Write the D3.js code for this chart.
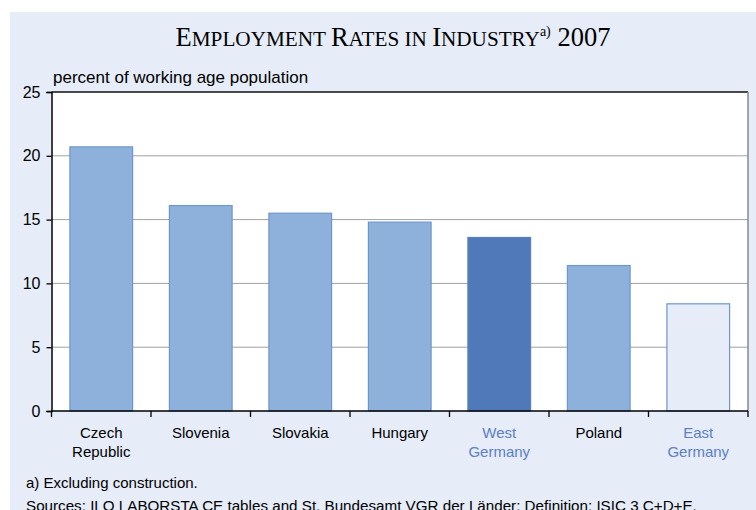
<!DOCTYPE html>
<html>
<head>
<meta charset="utf-8">
<script src="https://cdn.jsdelivr.net/npm/d3@7"></script>
<style>
  body { margin: 0; background: #fff; }
  svg { display: block; }
</style>
</head>
<body>
<div id="chart"></div>
<script>
// Employment rates in industry 2007 - bar chart

var countries = ["Czech|Republic", "Slovenia", "Slovakia", "Hungary", "West|Germany", "Poland", "East|Germany"];
var rates = [20.7, 16.1, 15.5, 14.8, 13.6, 11.4, 8.4];
var yTicks = [0, 5, 10, 15, 20, 25];
var highlight = ["West|Germany", "East|Germany"];

var width = 756, height = 510;
var margin = { top: 92, right: 8, bottom: 99, left: 51.5 };

var svg = d3.select("#chart").append("svg")
    .attr("width", width)
    .attr("height", height);

// light blue panel
svg.append("rect")
    .attr("x", 10).attr("y", 12)
    .attr("width", width - 10).attr("height", height - 12)
    .attr("fill", "#e6ecf8");

var x = d3.scaleBand()
    .domain(countries)
    .range([margin.left, width - margin.right])
    .paddingInner(0.37)
    .paddingOuter(0.185);

var y = d3.scaleLinear()
    .domain([0, 25])
    .range([height - margin.bottom, margin.top]);

var plotL = margin.left, plotR = width - margin.right;
var plotT = margin.top, plotB = height - margin.bottom;

svg.append("rect")
    .attr("x", plotL).attr("y", plotT)
    .attr("width", plotR - plotL).attr("height", plotB - plotT)
    .attr("fill", "#fff");

// gridlines
svg.append("g").selectAll("line")
    .data(yTicks.filter(function(d) { return d > 0 && d < 25; }))
    .enter().append("line")
    .attr("x1", plotL).attr("x2", plotR)
    .attr("y1", function(d) { return y(d); })
    .attr("y2", function(d) { return y(d); })
    .attr("stroke", "#a0a0a0")
    .attr("stroke-width", 1);

// bars
svg.append("g").selectAll("rect")
    .data(countries)
    .enter().append("rect")
    .attr("x", function(d) { return x(d); })
    .attr("width", x.bandwidth())
    .attr("y", function(d, i) { return y(rates[i]); })
    .attr("height", function(d, i) { return y(0) - y(rates[i]); })
    .attr("fill", function(d) {
        if (d === "West|Germany") return "#5079ba";
        if (d === "East|Germany") return "#e6ecf8";
        return "#8eb1dc";
    })
    .attr("stroke", function(d) {
        return d === "West|Germany" ? "#5b80bf" : "#6f95cc";
    })
    .attr("stroke-width", 1.2);

// frame: top black, right gray
svg.append("line")
    .attr("x1", plotL).attr("x2", plotR)
    .attr("y1", plotT).attr("y2", plotT)
    .attr("stroke", "#111").attr("stroke-width", 1.3);
svg.append("line")
    .attr("x1", plotR).attr("x2", plotR)
    .attr("y1", plotT).attr("y2", plotB)
    .attr("stroke", "#888").attr("stroke-width", 1.5);

// y axis
var yAxis = d3.axisLeft(y).tickValues(yTicks).tickSize(5).tickPadding(6);
var yG = svg.append("g")
    .attr("transform", "translate(" + plotL + ",0)")
    .call(yAxis);
yG.select(".domain").attr("stroke", "#000").attr("stroke-width", 1.5);
yG.selectAll(".tick line").attr("stroke", "#000").attr("stroke-width", 1.3);
yG.selectAll(".tick text")
    .attr("font-family", "Liberation Sans, Arial, sans-serif")
    .attr("font-size", 16)
    .attr("fill", "#000");

// x axis with ticks at band edges
var xAxisG = svg.append("g");
xAxisG.append("line")
    .attr("x1", plotL).attr("x2", plotR)
    .attr("y1", plotB).attr("y2", plotB)
    .attr("stroke", "#000").attr("stroke-width", 1.5);
var step = x.step();
var edges = d3.range(countries.length + 1).map(function(i) {
    return x(countries[0]) - x.paddingInner() * step / 2 + i * step;
});
xAxisG.selectAll("line.edge")
    .data(edges)
    .enter().append("line")
    .attr("class", "edge")
    .attr("x1", function(d) { return d; })
    .attr("x2", function(d) { return d; })
    .attr("y1", plotB).attr("y2", plotB + 6)
    .attr("stroke", "#000").attr("stroke-width", 1.3);

// category labels
var labels = svg.append("g").selectAll("text")
    .data(countries)
    .enter().append("text")
    .attr("text-anchor", "middle")
    .attr("font-family", "Liberation Sans, Arial, sans-serif")
    .attr("font-size", 15)
    .attr("fill", function(d) {
        return highlight.indexOf(d) >= 0 ? "#5b80c4" : "#000";
    });
labels.each(function(d) {
    var t = d3.select(this);
    var cx = x(d) + x.bandwidth() / 2;
    d.split("|").forEach(function(line, j) {
        t.append("tspan")
            .attr("x", cx)
            .attr("y", 438 + j * 19)
            .text(line);
    });
});

// title
var title = svg.append("text")
    .attr("x", 393).attr("y", 46)
    .attr("text-anchor", "middle")
    .attr("font-family", "Liberation Serif, Times New Roman, serif")
    .attr("fill", "#000");
title.append("tspan").attr("font-size", 26.5).text("E");
title.append("tspan").attr("font-size", 21.2).text("MPLOYMENT ");
title.append("tspan").attr("font-size", 26.5).text("R");
title.append("tspan").attr("font-size", 21.2).text("ATES IN ");
title.append("tspan").attr("font-size", 26.5).text("I");
title.append("tspan").attr("font-size", 21.2).text("NDUSTRY");
title.append("tspan").attr("font-size", 14).attr("dy", -10).text("a)");
title.append("tspan").attr("font-size", 26.5).attr("dy", 10).text(" 2007");

// unit label
svg.append("text")
    .attr("x", 53).attr("y", 83)
    .attr("font-family", "Liberation Sans, Arial, sans-serif")
    .attr("font-size", 17)
    .attr("fill", "#000")
    .text("percent of working age population");

// footnotes
svg.append("text")
    .attr("x", 26).attr("y", 488)
    .attr("font-family", "Liberation Sans, Arial, sans-serif")
    .attr("font-size", 15)
    .attr("fill", "#000")
    .text("a) Excluding construction.");
svg.append("text")
    .attr("x", 26).attr("y", 511)
    .attr("font-family", "Liberation Sans, Arial, sans-serif")
    .attr("font-size", 15.2)
    .attr("fill", "#000")
    .text("Sources: ILO LABORSTA CE tables and St. Bundesamt VGR der Länder; Definition: ISIC 3 C+D+E.");
</script>
</body>
</html>
